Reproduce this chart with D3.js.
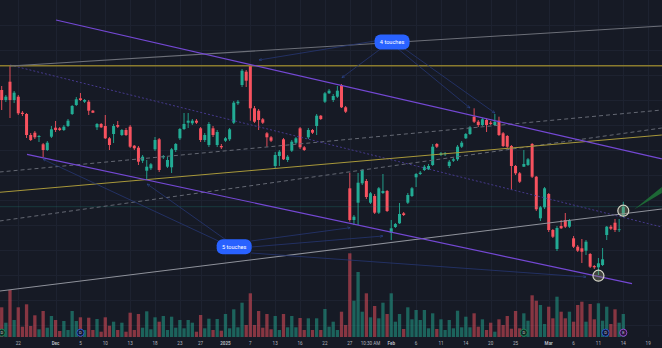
<!DOCTYPE html>
<html><head><meta charset="utf-8">
<script src="https://cdn.jsdelivr.net/npm/d3@7"></script>
<style>html,body{margin:0;padding:0;background:#161a25;overflow:hidden}</style>
</head><body>
<svg id="chart" width="662" height="348"></svg>
<script>
// OHLC per bar
const opens = [46.00,45.00,46.83,45.00,45.33,43.73,43.60,41.50,41.73,41.30,
40.57,40.00,41.33,42.23,42.17,42.00,42.40,43.60,44.50,45.17,
44.83,44.83,43.93,42.27,42.60,42.40,41.17,41.60,42.50,41.50,
42.00,42.33,40.43,40.23,38.93,37.93,38.17,40.07,41.07,39.27,
38.33,38.27,40.00,41.17,42.10,42.73,42.67,42.93,42.17,41.00,
40.50,42.17,40.50,40.40,40.93,41.07,42.73,44.67,46.50,47.83,
48.50,44.17,43.93,43.07,41.67,41.27,38.40,39.40,41.07,39.00,
39.93,40.73,42.17,40.27,41.27,42.00,42.40,43.43,44.83,45.67,
45.00,45.33,46.50,44.27,36.17,33.00,34.73,36.67,36.90,34.73,
35.40,33.73,35.70,35.90,31.73,32.30,32.67,33.67,34.73,35.40,
37.27,37.60,38.00,38.07,38.50,40.60,39.50,39.57,38.40,38.93,
39.07,40.33,41.17,41.60,43.33,42.83,42.50,43.00,42.73,42.50,
42.93,41.67,41.40,40.40,38.40,37.67,38.33,38.50,40.60,37.33,
33.17,34.27,35.60,32.00,30.10,32.40,33.00,32.33,31.17,30.33,
30.17,29.93,29.60,28.40,28.27,28.50,31.50,32.33,32.73,32.00,
33.50];
const highs = [46.40,45.50,48.40,45.90,45.50,43.90,43.70,41.70,41.90,41.50,
40.70,40.90,42.40,42.90,42.30,42.50,43.10,44.50,45.30,45.70,
45.10,45.00,44.00,42.70,42.70,43.50,41.30,42.60,42.90,42.10,
42.20,42.50,40.50,40.40,39.50,39.00,38.70,41.30,41.20,39.50,
39.30,40.20,40.70,42.20,43.70,43.70,43.10,43.10,42.30,41.70,
42.80,42.40,42.00,40.60,41.30,42.20,44.90,45.00,48.10,48.00,
48.60,44.40,44.10,43.20,41.80,41.40,39.80,40.00,41.20,39.50,
41.00,41.30,42.30,40.40,42.20,42.10,43.60,43.50,45.80,46.10,
45.60,46.40,46.60,44.40,37.73,33.50,37.70,38.10,37.10,35.80,
35.60,36.30,37.60,36.00,33.00,32.70,34.70,33.80,35.70,36.30,
37.70,37.90,38.50,38.60,40.60,40.70,39.80,39.80,39.00,39.20,
40.50,40.90,41.70,42.40,44.17,43.00,43.20,43.20,42.90,43.60,
43.33,41.80,41.50,40.50,38.50,37.80,40.00,39.20,40.70,37.40,
34.40,36.30,35.70,32.10,32.40,33.00,33.70,33.10,31.40,30.50,
31.10,31.00,29.70,28.50,29.20,30.20,32.40,32.50,33.10,33.10,
34.83];
const lows = [44.00,44.80,43.20,44.70,43.50,43.40,41.20,40.90,41.10,40.80,
39.30,39.90,41.20,41.80,41.90,41.90,42.30,43.50,44.40,44.90,
44.70,43.50,43.70,42.00,42.20,41.10,40.00,40.70,42.20,41.40,
41.40,40.20,40.00,38.50,38.70,37.00,38.00,39.90,37.80,39.10,
38.20,37.70,39.80,41.00,42.00,42.20,42.50,42.60,40.80,40.80,
40.30,41.30,40.30,40.10,40.80,40.90,42.60,44.50,46.30,46.30,
42.93,42.70,42.00,42.60,40.33,40.80,38.20,38.40,39.00,38.80,
39.80,40.60,40.10,39.90,41.10,41.60,41.50,43.00,44.70,45.60,
44.80,45.20,44.20,43.70,32.83,32.50,32.50,36.50,35.10,34.60,
33.60,33.60,35.60,33.80,31.00,32.20,32.60,33.40,34.60,35.30,
36.30,37.50,37.90,38.00,38.40,40.20,39.40,39.40,38.20,38.80,
38.90,40.20,41.10,41.50,42.70,42.30,42.40,41.80,42.50,42.40,
41.40,40.30,40.20,36.00,37.50,36.70,38.30,38.40,37.20,33.90,
32.90,34.10,31.80,31.20,29.90,32.10,32.20,32.20,30.20,29.80,
28.70,29.50,28.20,28.10,27.50,28.40,31.00,32.00,31.80,31.80,
33.27];
const closes = [45.00,45.33,45.00,45.73,43.67,43.60,41.50,41.00,41.27,41.40,
40.00,40.73,42.07,42.00,42.00,42.33,42.93,44.40,45.07,45.00,
45.00,43.93,43.73,42.60,42.27,41.17,40.50,42.40,42.33,42.00,
41.50,40.33,40.17,38.83,39.33,38.33,38.57,41.00,38.00,39.40,
39.00,40.07,40.60,42.10,42.60,42.93,42.93,42.73,41.00,41.50,
42.60,41.50,41.80,40.27,41.17,42.07,44.73,44.83,47.93,46.93,
44.17,42.83,43.00,42.73,41.27,40.93,39.50,39.83,39.07,39.33,
40.83,41.17,40.27,40.00,42.00,41.73,43.43,43.10,45.67,45.93,
45.40,45.93,44.27,43.83,33.00,33.33,36.73,38.00,35.30,35.67,
33.73,36.17,35.90,33.90,32.17,32.60,33.60,33.50,35.50,36.17,
37.60,37.73,38.33,38.40,40.33,40.33,39.67,39.67,38.83,39.07,
40.33,40.73,41.60,42.27,42.83,42.50,43.07,42.50,42.60,42.83,
41.50,40.40,40.33,38.40,37.67,36.83,38.60,39.07,37.33,34.07,
34.27,36.17,32.00,31.33,32.20,32.17,32.33,32.93,30.33,29.93,
29.83,30.83,28.33,28.27,28.67,29.07,32.33,32.13,32.00,32.07,
34.33];
// volume per bar, millions
const volumes = [2.97,1.43,4.70,1.70,2.97,1.03,3.27,1.10,2.17,0.77,
2.60,0.93,2.10,1.70,0.60,1.60,0.70,2.60,1.60,1.97,
0.70,1.93,0.70,1.80,0.53,1.97,1.13,1.53,0.70,1.43,
0.53,2.43,0.70,2.30,0.93,2.57,0.77,1.97,1.53,2.10,
0.70,2.03,0.93,1.70,0.87,1.70,1.43,0.53,2.20,0.87,
1.83,0.70,1.80,0.63,2.30,0.87,2.77,0.97,3.43,1.20,
4.37,1.20,2.60,0.93,2.30,0.77,2.10,0.70,2.30,0.97,
2.10,0.97,1.90,0.70,1.87,0.70,1.87,0.70,2.80,1.03,
1.53,0.70,2.53,1.20,8.37,3.63,6.50,2.53,4.37,1.97,
3.10,1.87,3.43,2.30,4.37,1.53,2.30,0.80,2.97,1.77,
2.70,1.70,2.70,0.87,2.37,0.80,1.77,0.70,1.70,0.87,
2.63,0.97,2.03,0.97,2.37,1.03,1.77,0.70,1.43,0.53,
1.77,1.20,2.10,0.83,2.60,0.87,2.37,1.63,4.17,3.63,
3.20,1.30,3.03,1.87,4.03,2.53,1.87,2.53,1.53,3.20,
3.53,1.53,3.30,1.77,3.37,1.63,3.03,1.30,2.77,1.43,
2.30];

// time axis labels (bar index of each)
const tickBars   = [4,13,19,25,31,37,43,48,54,60,66,72,78,84,89,94,100,106,112,118,124,132,138,144,150,156];
const tickLabels = ["22","Dec","5","10","13","18","23","27","2025","7","13","16","22","27","10:30 AM","Feb","6","11","14","20","25","Mar","6","11","14","19"];
const boldLabels = ["Dec","2025","Feb","Mar"];

// trend line anchors: [bar, price, bar, price]
const horizontalLevel = [[-2,48.43,162,48.43]];
const upperRising     = [[2.0,48.4,159.3,52.4]];
const channelUpper    = [[13.1,53.0,159.3,39.12]];
const channelLower    = [[6.1,39.57,152.1,26.64]];
const risingSupport   = [[-0.5,35.77,159.3,41.5]];
const dashedUpper     = [[-0.5,37.8,159.3,44.0]];
const dashedLower     = [[-0.5,32.9,159.3,42.2]];
const dottedFall      = [[2.0,48.5,159.3,32.3]];
const lowerRising     = [[-0.5,25.9,159.3,34.1]];
const projection      = [[152.6,34.05],[159.3,36.3],[159.3,35.7]];

// touch labels and their pointers: label [bar, price], targets [bar, price]
const touchLabels = [{text:"4 touches", at:[94.2,50.8]},{text:"5 touches", at:[56.1,30.32]}];
const touchArrows4 = [[[91.5,51.0],[62.1,49.0]],[[93.0,50.6],[82.1,47.23]],[[94.2,50.6],[113.0,44.2]],[[95.6,50.6],[119.0,43.7]]];
const touchArrows5 = [[[52.3,30.9],[10.0,39.07]],[[54.5,30.9],[35.1,36.6]],[[60.2,30.9],[84.1,32.23]],[[60.2,30.3],[92.0,31.4]],[[60.2,29.7],[141.0,27.3]]];
const touchMarks = [[150,33.93],[144,27.43]];
// event badges along the time axis: [bar, letter, kind]
const events = [[0,"D","div"],[19,"D","split"],[126,"D","div"],[145.7,"D","split"],[150,"E","earn"]];

const W = 662, H = 348;
const UP = "#22ab94", DOWN = "#f7525f";
const svg = d3.select("#chart");
svg.append("rect").attr("width",W).attr("height",H).attr("fill","#161a25");

const x = d3.scaleLinear().domain([0,150]).range([1.7,623.3]);
const y = d3.scaleLinear().domain([20,55]).range([350,0]);
const yv = d3.scaleLinear().domain([0,10]).range([337,237]);

const bars = d3.range(opens.length).map(i => ({i, o:opens[i], h:highs[i], l:lows[i], c:closes[i], v:volumes[i]}));

// grid
const grid = svg.append("g").attr("stroke","#1d2230").attr("stroke-width",1);
grid.selectAll("line.v").data(tickBars).join("line")
  .attr("x1",d=>Math.round(x(d))+0.5).attr("x2",d=>Math.round(x(d))+0.5).attr("y1",0).attr("y2",337);
grid.selectAll("line.h").data(d3.range(22.5,55,2.5)).join("line")
  .attr("y1",d=>Math.round(y(d))+0.5).attr("y2",d=>Math.round(y(d))+0.5).attr("x1",0).attr("x2",W);

// volume
svg.append("g").selectAll("rect").data(bars).join("rect")
  .attr("x",d=>x(d.i)-1.65).attr("width",3.3)
  .attr("y",d=>yv(d.v)).attr("height",d=>yv(0)-yv(d.v))
  .attr("fill",d=>d.c>=d.o ? "rgba(34,171,148,0.5)" : "rgba(247,82,95,0.5)");

// candles
const cg = svg.append("g");
cg.selectAll("line").data(bars).join("line")
  .attr("x1",d=>x(d.i)).attr("x2",d=>x(d.i)).attr("y1",d=>y(d.h)).attr("y2",d=>y(d.l))
  .attr("stroke",d=>d.c>=d.o?UP:DOWN).attr("stroke-width",0.9);
cg.selectAll("rect").data(bars).join("rect")
  .attr("x",d=>x(d.i)-1.5).attr("width",3.0)
  .attr("y",d=>y(Math.max(d.o,d.c))).attr("height",d=>Math.max(0.8,Math.abs(y(d.o)-y(d.c))))
  .attr("fill",d=>d.c>=d.o?UP:DOWN);

// price line at last close
const last = bars[bars.length-1];
svg.append("line").attr("x1",0).attr("x2",W).attr("y1",y(last.c)).attr("y2",y(last.c))
  .attr("stroke","#22ab94").attr("stroke-opacity",0.22).attr("stroke-width",1);

// drawings
const seg = (arr, color, width, dash) => svg.append("g").selectAll("line").data(arr).join("line")
  .attr("x1",d=>x(d[0])).attr("y1",d=>y(d[1])).attr("x2",d=>x(d[2])).attr("y2",d=>y(d[3]))
  .attr("stroke",color).attr("stroke-width",width).attr("stroke-dasharray",dash||null).attr("fill","none");

seg(dashedUpper,"#646873",1,"4,3");
seg(dashedLower,"#646873",1,"4,3");
seg(dottedFall,"#45398c",1,"2,2");
seg(horizontalLevel,"#8a7b2e",1.5);
seg(risingSupport,"#a8983a",1);
seg(upperRising,"#6c6f78",1.1);
seg(lowerRising,"#8f929b",1.1);
seg(channelUpper,"#7448d4",1.2);
seg(channelLower,"#7448d4",1.2);

svg.append("path").attr("d",d3.line().x(d=>x(d[0])).y(d=>y(d[1]))(projection)+"Z")
  .attr("fill","#1f7a3a").attr("fill-opacity",0.8);

// touch pointers
const defs = svg.append("defs");
defs.append("marker").attr("id","ah").attr("viewBox","0 0 10 10").attr("refX",9).attr("refY",5)
  .attr("markerWidth",4).attr("markerHeight",4).attr("orient","auto")
  .append("path").attr("d","M0,1L9,5L0,9").attr("fill","none").attr("stroke","#3050a0").attr("stroke-width",1.5);
svg.append("g").selectAll("line").data(touchArrows4.concat(touchArrows5)).join("line")
  .attr("x1",d=>x(d[0][0])).attr("y1",d=>y(d[0][1])).attr("x2",d=>x(d[1][0])).attr("y2",d=>y(d[1][1]))
  .attr("stroke","#263672").attr("stroke-width",0.8).attr("marker-end","url(#ah)");

// touch markers
svg.append("g").selectAll("circle").data(touchMarks).join("circle")
  .attr("cx",d=>x(d[0])).attr("cy",d=>y(d[1])).attr("r",5.5)
  .attr("fill","rgba(150,150,110,0.35)").attr("stroke","#d6d6c8").attr("stroke-width",1.2);

// touch labels
const tl = svg.append("g").selectAll("g").data(touchLabels).join("g")
  .attr("transform",d=>`translate(${x(d.at[0])},${y(d.at[1])})`);
tl.append("rect").attr("x",-17.5).attr("y",-7.5).attr("width",35).attr("height",15).attr("rx",6).attr("fill","#2962ff");
tl.append("text").attr("text-anchor","middle").attr("dy","0.35em").attr("fill","#ffffff")
  .attr("font-family","Roboto, 'Noto Sans', sans-serif").attr("font-size",5.6).text(d=>d.text);

// event badges
const ev = svg.append("g").selectAll("g").data(events).join("g")
  .attr("transform",d=>`translate(${x(d[0])},332.7)`);
ev.append("circle").attr("r",3.6)
  .attr("fill",d=>d[2]==="div"?"#0f2a24":d[2]==="earn"?"#2a1540":"#10183a")
  .attr("stroke",d=>d[2]==="div"?"#1f8a5a":d[2]==="earn"?"#9c4fd6":"#2f5bd6").attr("stroke-width",0.9);
ev.append("text").attr("text-anchor","middle").attr("dy","0.35em").attr("font-size",4)
  .attr("font-family","Roboto, sans-serif").attr("fill","#c8cad0").text(d=>d[1]);

// time axis
svg.append("g").selectAll("text").data(tickBars).join("text")
  .attr("x",d=>x(d)).attr("y",344.5).attr("text-anchor","middle")
  .attr("font-family","Roboto, 'Noto Sans', sans-serif").attr("font-size",4.6)
  .attr("font-weight",(d,k)=>boldLabels.includes(tickLabels[k])?700:400)
  .attr("fill","#b2b5be").text((d,k)=>tickLabels[k]);
</script>
</body></html>
